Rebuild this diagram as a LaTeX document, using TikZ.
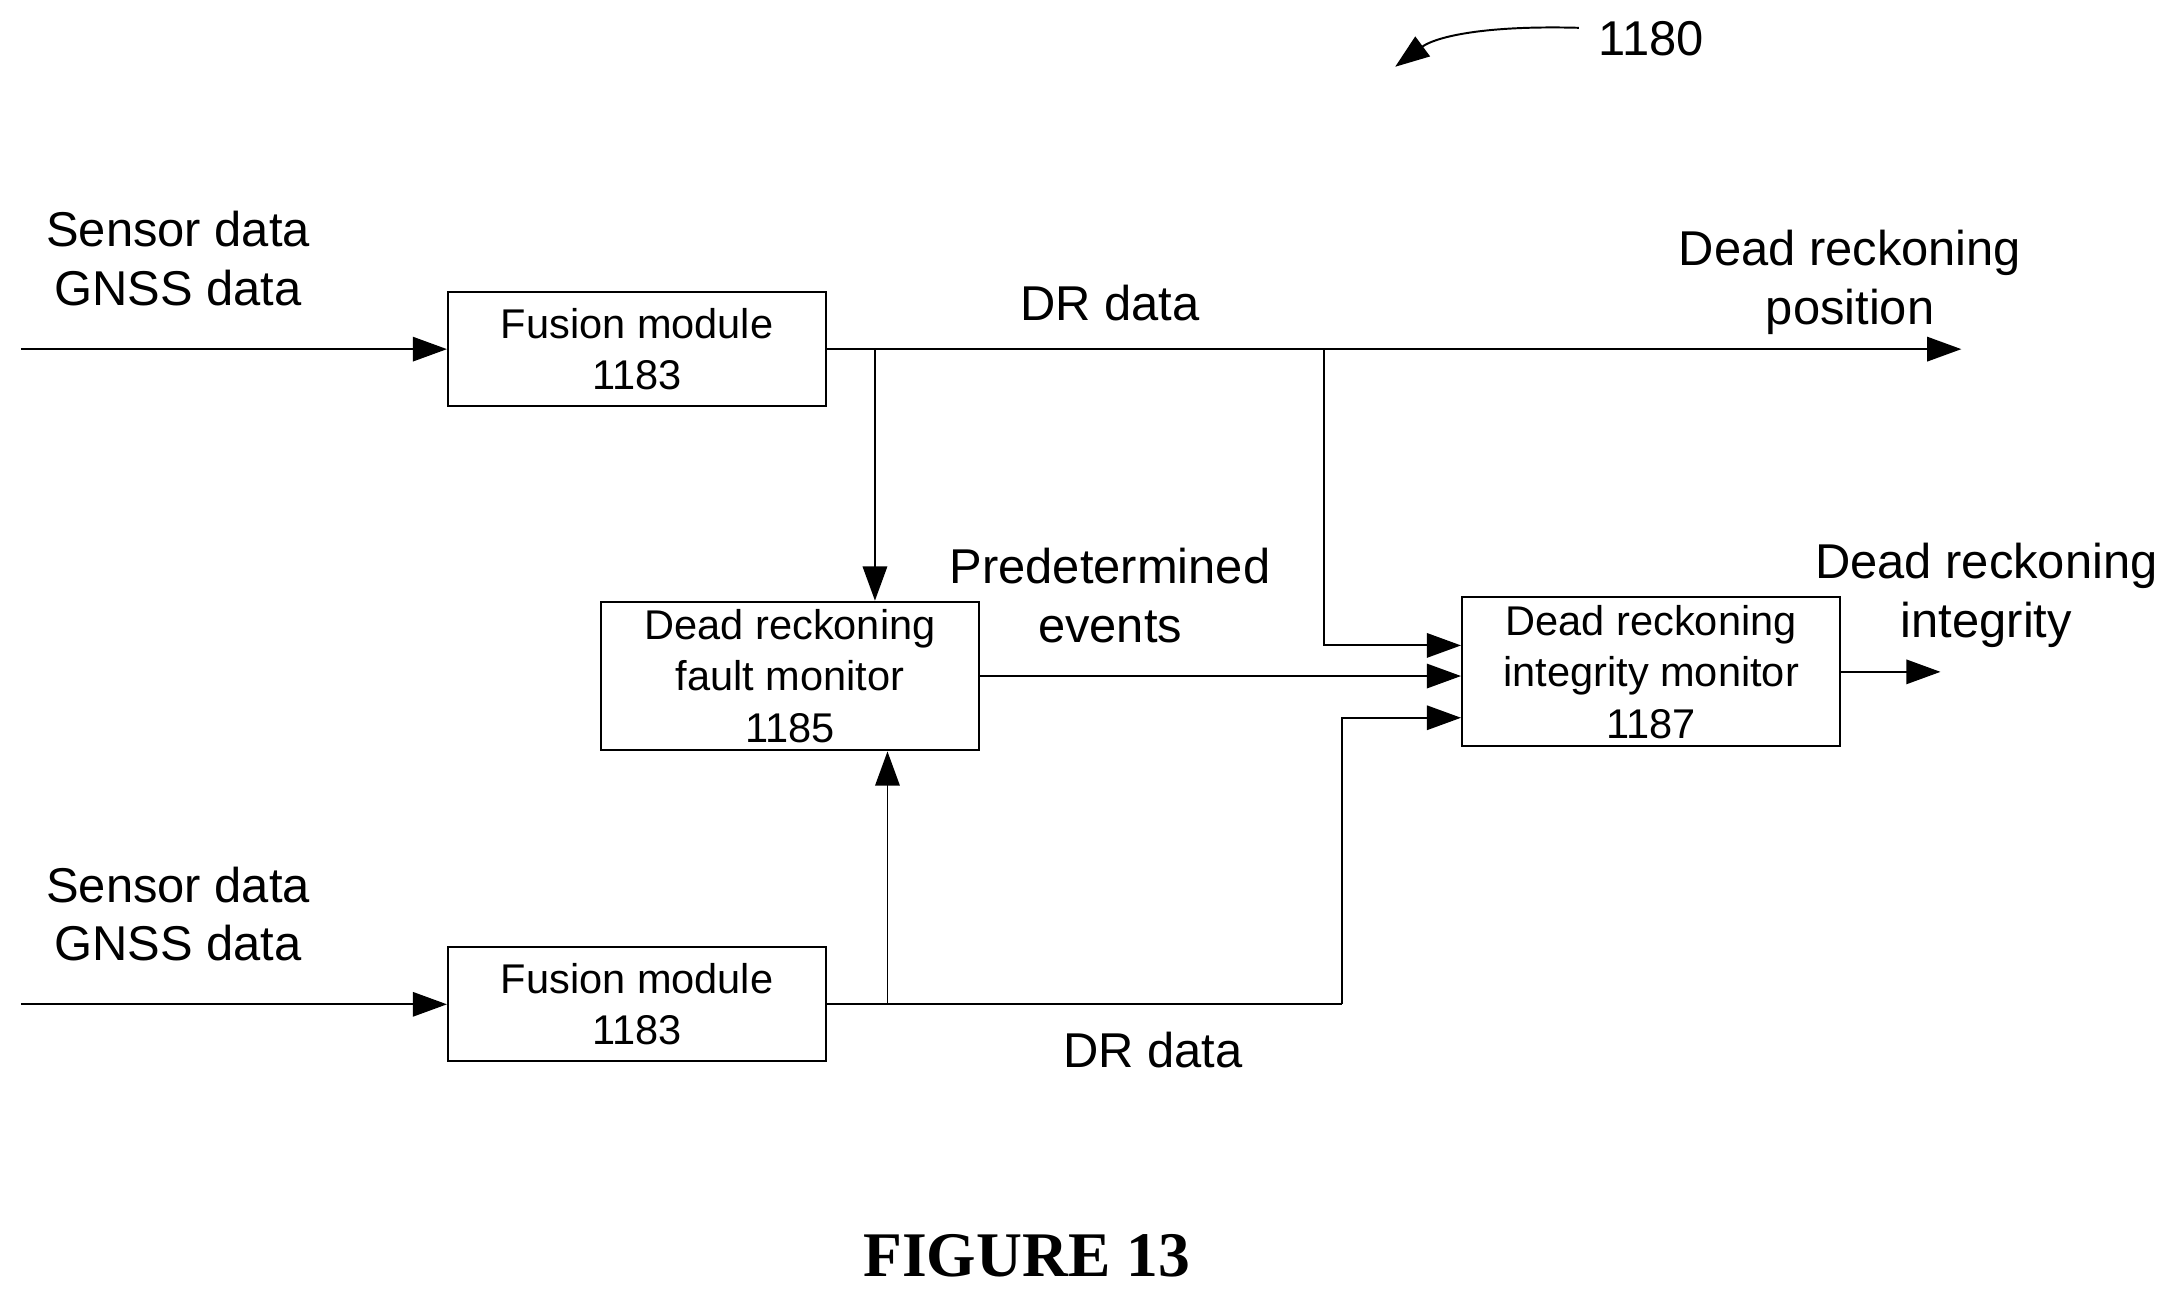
\documentclass[tikz,border=0pt]{standalone}
\usepackage{fontspec}
\setmainfont{Liberation Sans}
\newfontfamily\figfont{Liberation Serif}
\usetikzlibrary{arrows.meta}
\tikzset{
  block/.style  = {draw, thick, align=center, font=\fontsize{17}{21}\selectfont, inner sep=0},
  lbl/.style    = {align=center, font=\fontsize{20}{24}\selectfont},
  flow/.style   = {thick, -{Triangle[length=14pt,width=10pt]}}
}
\begin{document}
\begin{tikzpicture}[x=0.02cm,y=-0.02cm]
\useasboundingbox (0,0) rectangle (1560,935);

    % boxes
    \node(fus1)[block, minimum width=5.44cm, minimum height=1.64cm] at (458,251) {Fusion module\\1183};
    \node(fus2)[block, minimum width=5.44cm, minimum height=1.64cm] at (458,722) {Fusion module\\1183};
    \node(fault)[block, minimum width=5.44cm, minimum height=2.14cm] at (568,486) {Dead reckoning\\fault monitor\\1185};
    \node(integ)[block, minimum width=5.44cm, minimum height=2.14cm] at (1187,483) {Dead reckoning\\integrity monitor\\1187};

    % inputs
    \coordinate(in1) at (15,251);
    \coordinate(in2) at (15,722);
    \node(src1)[lbl] at (128,186) {Sensor data\\GNSS data};
    \node(src2)[lbl] at (128,657) {Sensor data\\GNSS data};
    \draw[flow] (in1) -- (fus1.west);
    \draw[flow] (in2) -- (fus2.west);

    % upper DR data path
    \coordinate(out1) at (1410,251);
    \coordinate(tap1) at (629,251);
    \coordinate(tap2) at (952,251);
    \draw[flow] (fus1.east) -- (out1);
    \draw[flow] (tap1) -- (tap1 |- fault.north);
    \draw[flow] (tap2) |- (integ.west |- 0,464);
    \node(dr1)[lbl] at (798,218) {DR data};
    \node(pos)[lbl] at (1330,203) {Dead reckoning\\position};

    % fault monitor output
    \draw[flow] (fault.east |- 0,486) -- (integ.west |- 0,486);
    \node(evt)[lbl] at (798,428) {Predetermined\\events};

    % lower DR data path
    \coordinate(tap3) at (638,722);
    \coordinate(bend) at (965,722);
    \draw[thick] (fus2.east) -- (bend);
    \draw[flow] (bend) |- (integ.west |- 0,516);
    \draw[flow] (tap3) -- (tap3 |- fault.south);
    \node(dr2)[lbl] at (829,755) {DR data};

    % integrity output
    \coordinate(out2) at (1395,483);
    \draw[flow] (integ.east) -- (out2);
    \node(intg)[lbl] at (1428,428) {Dead reckoning\\integrity};

    % reference numeral
    \node(ref)[lbl] at (1187,28) {1180};
    \coordinate(tip) at (1003,48);
    \draw[thick, -{Triangle[length=14pt,width=10pt]}] (1135,20) .. controls (1060,18) and (1030,28) .. (tip);

    \node(cap)[font=\figfont\bfseries\fontsize{26}{30}\selectfont] at (738,903) {FIGURE 13};
\end{tikzpicture}
\end{document}
